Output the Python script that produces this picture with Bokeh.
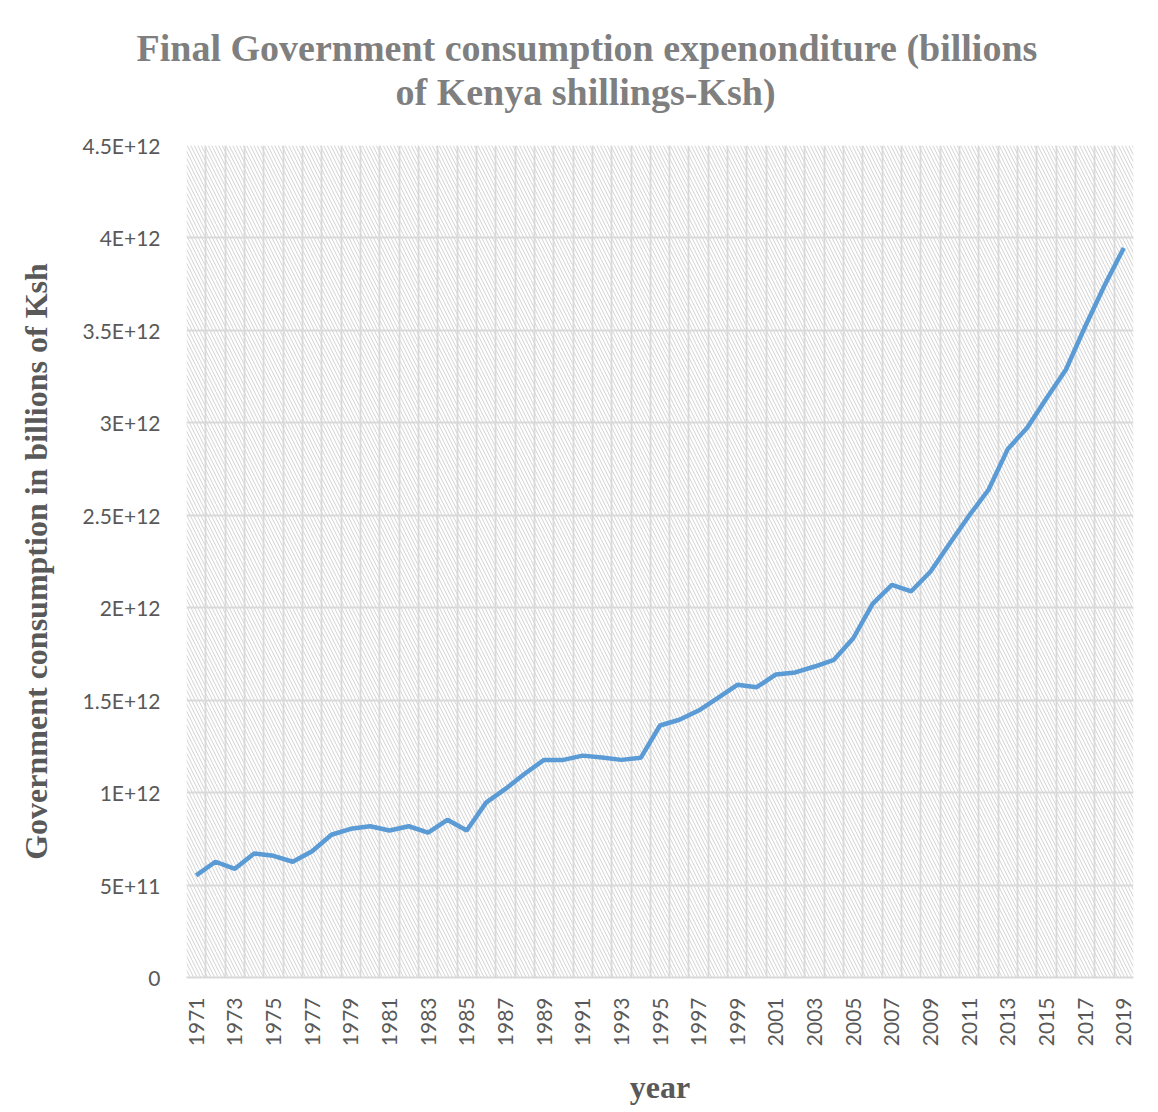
from bokeh.plotting import figure
from bokeh.models import Title, FixedTicker, BoxAnnotation, Range1d
from bokeh.embed import file_html
from bokeh.resources import INLINE
import math

years = list(range(1971, 2020))
consumption = [
    0.552e12, 0.626e12, 0.588e12, 0.671e12, 0.658e12, 0.626e12, 0.683e12, 0.772e12,
    0.804e12, 0.818e12, 0.795e12, 0.818e12, 0.784e12, 0.853e12, 0.795e12, 0.946e12,
    1.020e12, 1.102e12, 1.177e12, 1.177e12, 1.200e12, 1.190e12, 1.177e12, 1.188e12,
    1.363e12, 1.394e12, 1.444e12, 1.513e12, 1.583e12, 1.570e12, 1.639e12, 1.650e12,
    1.682e12, 1.718e12, 1.835e12, 2.021e12, 2.124e12, 2.089e12, 2.196e12, 2.349e12,
    2.499e12, 2.638e12, 2.859e12, 2.973e12, 3.133e12, 3.287e12, 3.521e12, 3.743e12,
    3.946e12,
]
y_ticks = [0, 5e11, 1e12, 1.5e12, 2e12, 2.5e12, 3e12, 3.5e12, 4e12, 4.5e12]
y_tick_labels = ["0", "5E+11", "1E+12", "1.5E+12", "2E+12", "2.5E+12", "3E+12",
                 "3.5E+12", "4E+12", "4.5E+12"]
x_tick_years = years[::2]

title_line1 = "Final Government consumption expenonditure (billions"
title_line2 = "of Kenya shillings-Ksh)"
y_label = "Government consumption in billions of Ksh"
x_label = "year"

grid_color = "#d9d9d9"
serif = "Liberation Serif"

p = figure(width=1158, height=1112, output_backend="svg", toolbar_location=None,
           x_range=Range1d(years[0] - 0.5, years[-1] + 0.5),
           y_range=Range1d(y_ticks[0], y_ticks[-1]),
           min_border_left=186, min_border_right=25, min_border_top=145,
           min_border_bottom=135, outline_line_color=None, title=None)

p.add_layout(Title(text=title_line2, align="left", text_font=serif,
                   text_font_style="bold", text_font_size="38px",
                   text_color="#7f7f7f", offset=209, standoff=66), "above")
p.add_layout(Title(text=title_line1, align="left", text_font=serif,
                   text_font_style="bold", text_font_size="38px",
                   text_color="#7f7f7f", offset=-50, standoff=-66), "above")

# hatched plot area
p.add_layout(BoxAnnotation(level="image", fill_color="white", fill_alpha=1,
                           line_color=None, hatch_pattern="\\",
                           hatch_color="#d2d2d2", hatch_scale=7, hatch_weight=1))

p.line(years, consumption, line_color="#5b9bd5", line_width=4.5)

# grids
p.xgrid.ticker = FixedTicker(ticks=[y - 0.5 for y in years] + [years[-1] + 0.5])
p.xgrid.grid_line_color = grid_color
p.xgrid.grid_line_width = 1.8
p.ygrid.ticker = FixedTicker(ticks=y_ticks)
p.ygrid.grid_line_color = grid_color
p.ygrid.grid_line_width = 1.8

# x axis
p.xaxis.ticker = FixedTicker(ticks=x_tick_years)
p.xaxis.major_label_orientation = math.pi / 2
p.xaxis.major_label_text_font = "Lato"
p.xaxis.major_label_text_font_size = "21px"
p.xaxis.major_label_text_color = "#595959"
p.xaxis.major_label_standoff = 14
p.xaxis.major_tick_line_color = None
p.xaxis.minor_tick_line_color = None
p.xaxis.axis_line_color = grid_color
p.xaxis.axis_line_width = 1.8
p.xaxis.axis_label = x_label
p.xaxis.axis_label_text_font = serif
p.xaxis.axis_label_text_font_style = "bold"
p.xaxis.axis_label_text_font_size = "32px"
p.xaxis.axis_label_text_color = "#595959"
p.xaxis.axis_label_standoff = 20

# y axis
p.yaxis.ticker = FixedTicker(ticks=y_ticks)
p.yaxis.major_label_overrides = {t: l for t, l in zip(y_ticks, y_tick_labels)}
p.yaxis.major_label_text_font = "Lato"
p.yaxis.major_label_text_font_size = "21px"
p.yaxis.major_label_text_color = "#595959"
p.yaxis.major_label_standoff = 20
p.yaxis.major_tick_line_color = None
p.yaxis.minor_tick_line_color = None
p.yaxis.axis_line_color = None
p.yaxis.axis_label = y_label
p.yaxis.axis_label_text_font = serif
p.yaxis.axis_label_text_font_style = "bold"
p.yaxis.axis_label_text_font_size = "32px"
p.yaxis.axis_label_text_color = "#595959"
p.yaxis.axis_label_standoff = 26

open("out.html", "w").write(file_html(p, INLINE))
